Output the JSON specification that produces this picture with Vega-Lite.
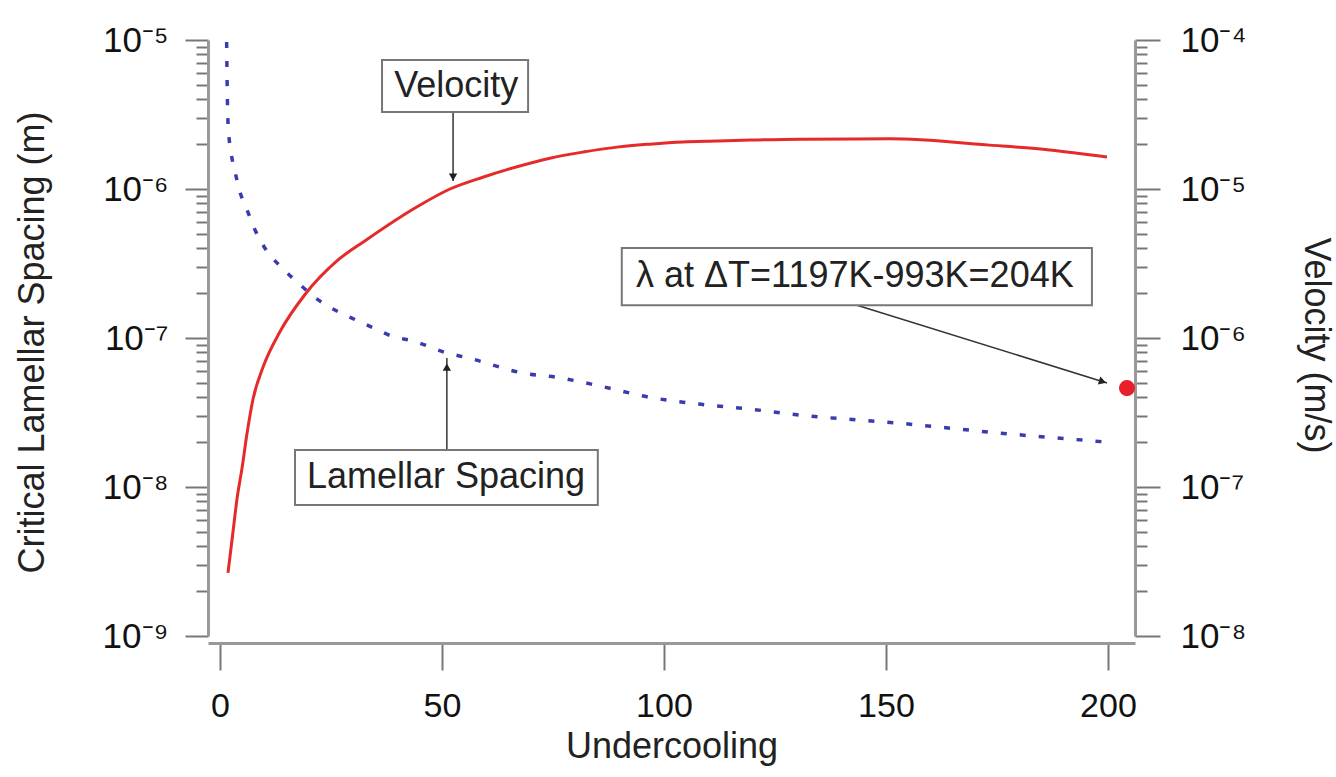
{
  "$schema": "https://vega.github.io/schema/vega-lite/v6.json",
  "width": 927,
  "height": 596,
  "autosize": {"type": "none"},
  "padding": {"left": 208, "top": 40, "right": 201, "bottom": 141},
  "background": "white",
  "config": {
    "view": {"stroke": null},
    "axis": {
      "grid": false,
      "labelFont": "Liberation Sans",
      "titleFont": "Liberation Sans",
      "labelFontSize": 35,
      "titleFontSize": 36,
      "titleFontWeight": "normal",
      "labelColor": "#111",
      "titleColor": "#222",
      "domainColor": "#999",
      "domainWidth": 3,
      "tickColor": "#777",
      "tickWidth": 2,
      "labelOverlap": false,
      "labelBound": false,
      "labelFlush": false
    }
  },
  "datasets": {
    "lam": [
      {"dT": 1.5, "lam": 9.7e-6},
      {"dT": 1.6, "lam": 5.47e-6},
      {"dT": 1.75, "lam": 3.09e-6},
      {"dT": 2.0, "lam": 2.3e-6},
      {"dT": 2.5, "lam": 1.75e-6},
      {"dT": 3.4, "lam": 1.3e-6},
      {"dT": 4.5, "lam": 9.55e-7},
      {"dT": 6.1, "lam": 7.23e-7},
      {"dT": 7.9, "lam": 5.31e-7},
      {"dT": 10.1, "lam": 4.02e-7},
      {"dT": 14.0, "lam": 2.95e-7},
      {"dT": 17.6, "lam": 2.34e-7},
      {"dT": 21.8, "lam": 1.83e-7},
      {"dT": 25.9, "lam": 1.54e-7},
      {"dT": 29.7, "lam": 1.36e-7},
      {"dT": 34.5, "lam": 1.17e-7},
      {"dT": 38.7, "lam": 1.03e-7},
      {"dT": 43.5, "lam": 9.55e-8},
      {"dT": 51.1, "lam": 7.93e-8},
      {"dT": 55.9, "lam": 7.35e-8},
      {"dT": 68.2, "lam": 5.82e-8},
      {"dT": 76.6, "lam": 5.4e-8},
      {"dT": 85.6, "lam": 4.76e-8},
      {"dT": 96.8, "lam": 4.0e-8},
      {"dT": 108.0, "lam": 3.6e-8},
      {"dT": 118.7, "lam": 3.35e-8},
      {"dT": 130.6, "lam": 3.04e-8},
      {"dT": 153.0, "lam": 2.68e-8},
      {"dT": 175.7, "lam": 2.3e-8},
      {"dT": 200.0, "lam": 2.0e-8}
    ],
    "vel": [
      {"dT": 1.8, "vel": 2.65e-8},
      {"dT": 2.9, "vel": 4.91e-8},
      {"dT": 3.8, "vel": 8.18e-8},
      {"dT": 5.0, "vel": 1.36e-7},
      {"dT": 6.1, "vel": 2.3e-7},
      {"dT": 7.4, "vel": 3.84e-7},
      {"dT": 9.7, "vel": 6.38e-7},
      {"dT": 13.5, "vel": 1.1e-6},
      {"dT": 19.1, "vel": 1.95e-6},
      {"dT": 26.6, "vel": 3.34e-6},
      {"dT": 32.7, "vel": 4.5e-6},
      {"dT": 44.4, "vel": 7.6e-6},
      {"dT": 51.8, "vel": 1.0e-5},
      {"dT": 59.2, "vel": 1.2e-5},
      {"dT": 66.9, "vel": 1.41e-5},
      {"dT": 74.3, "vel": 1.61e-5},
      {"dT": 81.8, "vel": 1.77e-5},
      {"dT": 89.4, "vel": 1.91e-5},
      {"dT": 96.8, "vel": 2.0e-5},
      {"dT": 104.3, "vel": 2.07e-5},
      {"dT": 111.9, "vel": 2.1e-5},
      {"dT": 119.4, "vel": 2.13e-5},
      {"dT": 130.6, "vel": 2.16e-5},
      {"dT": 150.9, "vel": 2.17e-5},
      {"dT": 173.4, "vel": 1.97e-5},
      {"dT": 186.9, "vel": 1.83e-5},
      {"dT": 199.8, "vel": 1.64e-5}
    ],
    "dot": [{"dT": 204.3, "lam": 4.61e-8}],
    "boxes": [
      {"x1": 36.5, "x2": 69.4, "y1": 7.34e-6, "y2": 3.29e-6},
      {"x1": 16.9, "x2": 85.1, "y1": 1.77e-8, "y2": 7.57e-9},
      {"x1": 90.5, "x2": 196.4, "y1": 4.02e-7, "y2": 1.66e-7}
    ],
    "labels": [
      {"x": 53.2, "y": 4.91e-6, "t": "Velocity"},
      {"x": 50.9, "y": 1.16e-8, "t": "Lamellar Spacing"},
      {"x": 143.0, "y": 2.59e-7, "t": "λ at ΔT=1197K-993K=204K"}
    ],
    "arrows": [
      {"x1": 52.5, "y1": 3.29e-6, "x2": 52.5, "y2": 1.13e-6},
      {"x1": 51.1, "y1": 1.77e-8, "x2": 51.1, "y2": 7.34e-8},
      {"x1": 143.5, "y1": 1.66e-7, "x2": 199.8, "y2": 4.99e-8}
    ],
    "headDown": [{"x": 52.5, "y": 1.2e-6}],
    "headUp": [{"x": 51.1, "y": 6.38e-8}],
    "headDiag": [{"x": 198.8, "y": 5.1e-8}]
  },
  "layer": [
    {
      "layer": [
        {
          "data": {"name": "lam"},
          "mark": {"type": "line", "color": "#3b3bb0", "strokeWidth": 3.5, "strokeDash": [6, 13], "interpolate": "monotone"},
          "encoding": {
            "x": {
              "field": "dT", "type": "quantitative",
              "scale": {"domain": [-2.7, 206.1], "nice": false, "zero": false},
              "axis": {
                "title": "Undercooling",
                "values": [0, 50, 100, 150, 200],
                "offset": 7,
                "tickSize": 27,
                "labelPadding": 19,
                "labelFontSize": 34,
                "titlePadding": 6
              }
            },
            "y": {
              "field": "lam", "type": "quantitative",
              "scale": {"type": "log", "domain": [1e-9, 1e-5], "nice": false},
              "axis": {
                "title": "Critical Lamellar Spacing (m)",
                "titleX": -176,
                "titleY": 302,
                "titleBaseline": "middle",
                "values": [1e-9, 2e-9, 3e-9, 4e-9, 5e-9, 6e-9, 7e-9, 8e-9, 9e-9, 1e-8, 2e-8, 3e-8, 4e-8, 5e-8, 6e-8, 7e-8, 8e-8, 9e-8, 1e-7, 2e-7, 3e-7, 4e-7, 5e-7, 6e-7, 7e-7, 8e-7, 9e-7, 1e-6, 2e-6, 3e-6, 4e-6, 5e-6, 6e-6, 7e-6, 8e-6, 9e-6, 1e-5],
                "labelExpr": "datum.value==1e-9?'10⁻⁹':datum.value==1e-8?'10⁻⁸':datum.value==1e-7?'10⁻⁷':datum.value==1e-6?'10⁻⁶':datum.value==1e-5?'10⁻⁵':''",
                "tickSize": {"condition": {"test": "indexof([1e-9,1e-8,1e-7,1e-6,1e-5], datum.value) >= 0", "value": 23}, "value": 12},
                "labelPadding": 17
              }
            }
          }
        },
        {
          "data": {"name": "arrows"},
          "mark": {"type": "rule", "color": "#333", "strokeWidth": 1.5},
          "encoding": {
            "x": {"field": "x1", "type": "quantitative", "scale": {"domain": [-2.7, 206.1], "nice": false, "zero": false}},
            "x2": {"field": "x2"},
            "y": {"field": "y1", "type": "quantitative", "scale": {"type": "log", "domain": [1e-9, 1e-5], "nice": false}},
            "y2": {"field": "y2"}
          }
        },
        {
          "data": {"name": "headDown"},
          "mark": {"type": "point", "shape": "triangle-down", "filled": true, "color": "#222", "size": 70, "opacity": 1},
          "encoding": {
            "x": {"field": "x", "type": "quantitative", "scale": {"domain": [-2.7, 206.1], "nice": false, "zero": false}},
            "y": {"field": "y", "type": "quantitative", "scale": {"type": "log", "domain": [1e-9, 1e-5], "nice": false}}
          }
        },
        {
          "data": {"name": "headUp"},
          "mark": {"type": "point", "shape": "triangle-up", "filled": true, "color": "#222", "size": 70, "opacity": 1},
          "encoding": {
            "x": {"field": "x", "type": "quantitative", "scale": {"domain": [-2.7, 206.1], "nice": false, "zero": false}},
            "y": {"field": "y", "type": "quantitative", "scale": {"type": "log", "domain": [1e-9, 1e-5], "nice": false}}
          }
        },
        {
          "data": {"name": "headDiag"},
          "mark": {"type": "point", "shape": "triangle-right", "filled": true, "color": "#222", "size": 70, "opacity": 1, "angle": 17},
          "encoding": {
            "x": {"field": "x", "type": "quantitative", "scale": {"domain": [-2.7, 206.1], "nice": false, "zero": false}},
            "y": {"field": "y", "type": "quantitative", "scale": {"type": "log", "domain": [1e-9, 1e-5], "nice": false}}
          }
        },
        {
          "data": {"name": "boxes"},
          "mark": {"type": "rect", "fill": "white", "stroke": "#777", "strokeWidth": 2},
          "encoding": {
            "x": {"field": "x1", "type": "quantitative", "scale": {"domain": [-2.7, 206.1], "nice": false, "zero": false}},
            "x2": {"field": "x2"},
            "y": {"field": "y1", "type": "quantitative", "scale": {"type": "log", "domain": [1e-9, 1e-5], "nice": false}},
            "y2": {"field": "y2"}
          }
        },
        {
          "data": {"name": "labels"},
          "mark": {"type": "text", "font": "Liberation Sans", "fontSize": 36, "color": "#222", "align": "center", "baseline": "middle"},
          "encoding": {
            "x": {"field": "x", "type": "quantitative", "scale": {"domain": [-2.7, 206.1], "nice": false, "zero": false}},
            "y": {"field": "y", "type": "quantitative", "scale": {"type": "log", "domain": [1e-9, 1e-5], "nice": false}},
            "text": {"field": "t"}
          }
        },
        {
          "data": {"name": "dot"},
          "mark": {"type": "point", "shape": "circle", "filled": true, "color": "#e8202a", "size": 260, "opacity": 1},
          "encoding": {
            "x": {"field": "dT", "type": "quantitative", "scale": {"domain": [-2.7, 206.1], "nice": false, "zero": false}},
            "y": {"field": "lam", "type": "quantitative", "scale": {"type": "log", "domain": [1e-9, 1e-5], "nice": false}}
          }
        }
      ]
    },
    {
      "data": {"name": "vel"},
      "mark": {"type": "line", "color": "#e52a2a", "strokeWidth": 3, "interpolate": "monotone"},
      "encoding": {
        "x": {"field": "dT", "type": "quantitative", "scale": {"domain": [-2.7, 206.1], "nice": false, "zero": false}},
        "y": {
          "field": "vel", "type": "quantitative",
          "scale": {"type": "log", "domain": [1e-8, 1e-4], "nice": false},
          "axis": {
            "orient": "right",
            "title": "Velocity (m/s)",
            "titleX": 180,
            "titleY": 305,
            "titleBaseline": "middle",
            "titleAngle": 90,
            "values": [1e-8, 2e-8, 3e-8, 4e-8, 5e-8, 6e-8, 7e-8, 8e-8, 9e-8, 1e-7, 2e-7, 3e-7, 4e-7, 5e-7, 6e-7, 7e-7, 8e-7, 9e-7, 1e-6, 2e-6, 3e-6, 4e-6, 5e-6, 6e-6, 7e-6, 8e-6, 9e-6, 1e-5, 2e-5, 3e-5, 4e-5, 5e-5, 6e-5, 7e-5, 8e-5, 9e-5, 1e-4],
            "labelExpr": "datum.value==1e-8?'10⁻⁸':datum.value==1e-7?'10⁻⁷':datum.value==1e-6?'10⁻⁶':datum.value==1e-5?'10⁻⁵':datum.value==1e-4?'10⁻⁴':''",
            "tickSize": {"condition": {"test": "indexof([1e-8,1e-7,1e-6,1e-5,1e-4], datum.value) >= 0", "value": 25}, "value": 12},
            "labelPadding": 20
          }
        }
      }
    }
  ],
  "resolve": {"scale": {"y": "independent"}}
}
